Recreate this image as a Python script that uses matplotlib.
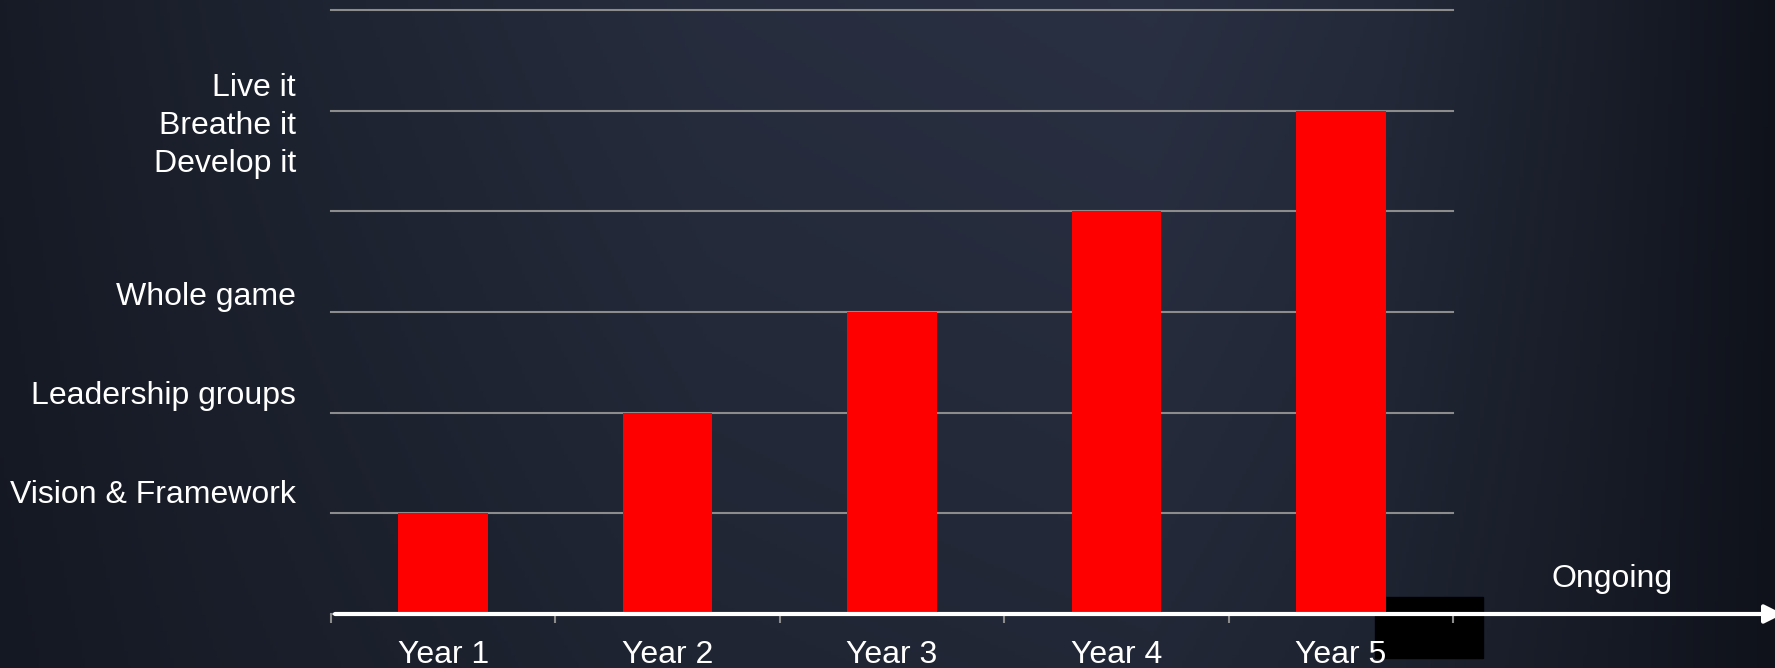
import numpy as np
import matplotlib.pyplot as plt
from matplotlib.patches import Rectangle, FancyArrowPatch
from matplotlib.colors import to_rgb

plt.rcParams['font.family'] = ['Liberation Sans', 'DejaVu Sans']

years = ['Year 1', 'Year 2', 'Year 3', 'Year 4', 'Year 5']
levels = [1, 2, 3, 4, 5]
stage_labels = ['Vision & Framework', 'Leadership groups', 'Whole game',
                'Live it\nBreathe it\nDevelop it']
stage_pos = [1.10, 2.09, 3.07, 4.39]

W, H = 1775, 668
fig = plt.figure(figsize=(W / 100, H / 100), dpi=100)

# dark slate background, lighter in the middle
bg = fig.add_axes([0, 0, 1, 1], zorder=-10)
xx, yy = np.meshgrid(np.linspace(0, 1, 500), np.linspace(0, 1, 200))
bx = np.interp(xx, [0, 0.12, 0.4, 0.65, 0.78, 0.9, 1], [0.3, 0.5, 0.85, 0.95, 0.75, 0.4, 0.05])
b = bx * (0.72 + 0.28 * yy)
dark = np.array(to_rgb('#0e1119'))
light = np.array(to_rgb('#2b3244'))
img = dark + (light - dark) * b[..., None]
bg.imshow(img, extent=[0, 1, 0, 1], origin='lower', aspect='auto')
bg.axis('off')

# black box near the axis end
fig.add_artist(Rectangle((1375 / W, (H - 658) / H), 108 / W, 61 / H,
                         transform=fig.transFigure, color='black', zorder=-5))

ax = fig.add_axes([331 / W, 54 / H, 1122 / W, 604 / H])
ax.set_facecolor('none')
ax.bar(range(len(years)), levels, width=0.4, color='#ff0000', zorder=3)
ax.set_xlim(-0.5, 4.5)
ax.set_ylim(0, 6)

for s in ['top', 'right', 'left']:
    ax.spines[s].set_visible(False)
ax.spines['bottom'].set_color('#8c8c8c')
ax.spines['bottom'].set_linewidth(1.5)

ax.set_yticks(range(1, 7))
ax.yaxis.grid(True, color='#8c8c8c', lw=1.5)
for gl in ax.get_ygridlines():
    gl.set_clip_on(False)
ax.tick_params(axis='y', length=0, labelleft=False)

ax.set_xticks(range(len(years)))
ax.set_xticklabels(years, fontsize=23, color='white')
ax.set_xticks(np.arange(-0.5, 5, 1), minor=True)
ax.tick_params(axis='x', which='major', length=0, pad=19)
ax.tick_params(axis='x', which='minor', length=6.5, width=1.5, color='#8c8c8c')

for lab, pos in zip(stage_labels, stage_pos):
    ax.text(-0.0312, pos, lab, transform=ax.get_yaxis_transform(),
            ha='right', va='baseline', fontsize=23, color='white', linespacing=1.35)

# white timeline arrow
y0 = (H - 614) / H
arrow = FancyArrowPatch((335 / W, y0), (1783 / W, y0), transform=fig.transFigure,
                        arrowstyle='-|>,head_length=1.1,head_width=0.55',
                        mutation_scale=10, lw=3, color='white', zorder=5,
                        shrinkA=0, shrinkB=0)
fig.add_artist(arrow)

fig.text(1612 / W, (H - 587) / H, 'Ongoing', ha='center', va='baseline',
         fontsize=23, color='white', zorder=5)

fig.savefig('out.png', dpi=100)
